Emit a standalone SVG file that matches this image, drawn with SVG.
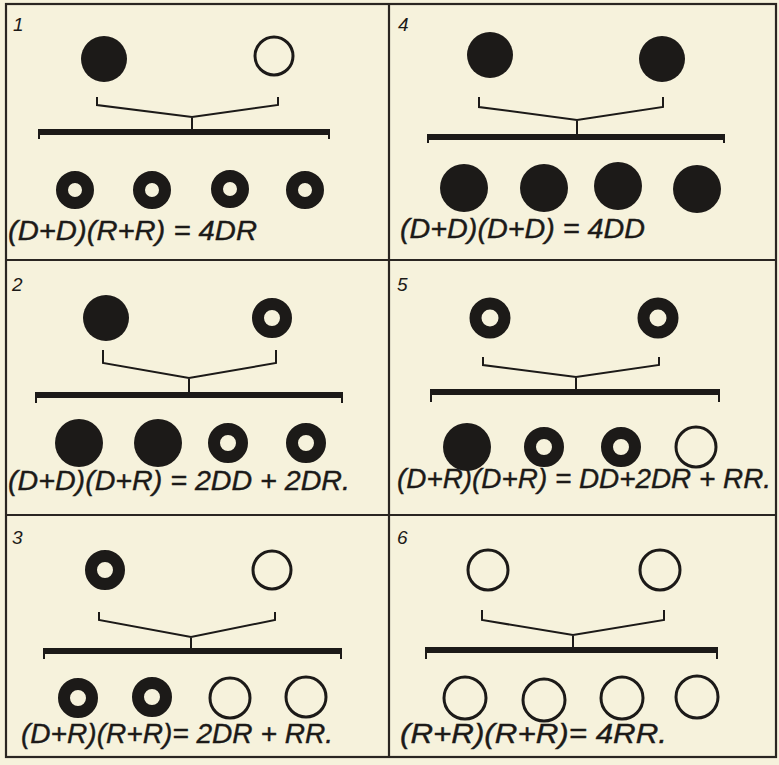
<svg xmlns="http://www.w3.org/2000/svg" width="779" height="765" viewBox="0 0 779 765">
<style>
.bg{fill:#f6f2dc}
.frame{fill:none;stroke:#2a2622;stroke-width:2.2}
.dom{fill:#1c1a18}
.het{fill:none;stroke:#1c1a18;stroke-width:12}
.rec{fill:none;stroke:#1c1a18;stroke-width:3}
.br{fill:none;stroke:#1c1a18;stroke-width:2}
.bar{fill:none;stroke:#1c1a18;stroke-width:6;stroke-linecap:butt}
.tick{fill:none;stroke:#1c1a18;stroke-width:2}
.eq{font-family:"Liberation Sans",Arial,sans-serif;font-style:italic;font-size:28px;fill:#1c1a18;stroke:#1c1a18;stroke-width:0.4}
.num{font-family:"Liberation Sans",Arial,sans-serif;font-style:italic;font-size:19px;fill:#1c1a18}
</style>
<rect class="bg" x="0" y="0" width="779" height="765"/>
<g id="frame">
<rect class="frame" x="6" y="4" width="770" height="753"/>
<line class="frame" x1="389" y1="4" x2="389" y2="757"/>
<line class="frame" x1="6" y1="260" x2="776" y2="260"/>
<line class="frame" x1="6" y1="515" x2="776" y2="515"/>
</g>

<g id="panel1">
<text class="num" x="13" y="31">1</text>
<g id="p1-parent1"><circle class="dom" cx="104" cy="59" r="23"/></g>
<g id="p1-parent2"><circle class="rec" cx="274" cy="56" r="19"/></g>
<g id="p1-connectors">
<path class="br" d="M97 97 V105 L192 117 L278 105 V97 M192 117 V130"/>
<line class="bar" x1="38" y1="132" x2="330" y2="132"/>
<path class="tick" d="M39 132 V139 M329 132 V139"/>
</g>
<g id="p1-child1"><circle class="het" cx="75" cy="190" r="13"/></g>
<g id="p1-child2"><circle class="het" cx="152" cy="190" r="13"/></g>
<g id="p1-child3"><circle class="het" cx="230" cy="189" r="13"/></g>
<g id="p1-child4"><circle class="het" cx="305" cy="190" r="13"/></g>
<text class="eq" x="8" y="240" textLength="249" lengthAdjust="spacingAndGlyphs">(D+D)(R+R) = 4DR</text>
</g>

<g id="panel4">
<text class="num" x="398" y="31">4</text>
<g id="p4-parent1"><circle class="dom" cx="490" cy="55" r="23"/></g>
<g id="p4-parent2"><circle class="dom" cx="662" cy="59" r="23"/></g>
<g id="p4-connectors">
<path class="br" d="M479 97 V107 L577 120 L663 107 V97 M577 120 V134"/>
<line class="bar" x1="427" y1="137" x2="725" y2="137"/>
<path class="tick" d="M428 137 V143 M724 137 V143"/>
</g>
<g id="p4-child1"><circle class="dom" cx="464" cy="188" r="24"/></g>
<g id="p4-child2"><circle class="dom" cx="544" cy="188" r="24"/></g>
<g id="p4-child3"><circle class="dom" cx="618" cy="186" r="24"/></g>
<g id="p4-child4"><circle class="dom" cx="697" cy="189" r="24"/></g>
<text class="eq" x="400" y="238" textLength="245" lengthAdjust="spacingAndGlyphs">(D+D)(D+D) = 4DD</text>
</g>

<g id="panel2">
<text class="num" x="12" y="291">2</text>
<g id="p2-parent1"><circle class="dom" cx="106" cy="318" r="23"/></g>
<g id="p2-parent2"><circle class="het" cx="272" cy="318" r="14"/></g>
<g id="p2-connectors">
<path class="br" d="M103 350 V363 L189 378 L276 363 V350 M189 378 V392"/>
<line class="bar" x1="35" y1="395" x2="343" y2="395"/>
<path class="tick" d="M36 395 V403 M342 395 V403"/>
</g>
<g id="p2-child1"><circle class="dom" cx="79" cy="443" r="24"/></g>
<g id="p2-child2"><circle class="dom" cx="158" cy="443" r="24"/></g>
<g id="p2-child3"><circle class="het" cx="228" cy="443" r="14"/></g>
<g id="p2-child4"><circle class="het" cx="306" cy="443" r="14"/></g>
<text class="eq" x="8" y="490" textLength="342" lengthAdjust="spacingAndGlyphs">(D+D)(D+R) = 2DD + 2DR.</text>
</g>

<g id="panel5">
<text class="num" x="397" y="291">5</text>
<g id="p5-parent1"><circle class="het" cx="490" cy="318" r="14.5"/></g>
<g id="p5-parent2"><circle class="het" cx="658" cy="318" r="14.5"/></g>
<g id="p5-connectors">
<path class="br" d="M483 357 V365 L576 377 L659 365 V357 M576 377 V390"/>
<line class="bar" x1="430" y1="392" x2="720" y2="392"/>
<path class="tick" d="M431 392 V402 M719 392 V402"/>
</g>
<g id="p5-child1"><circle class="dom" cx="467" cy="447" r="24"/></g>
<g id="p5-child2"><circle class="het" cx="544" cy="447" r="14"/></g>
<g id="p5-child3"><circle class="het" cx="621" cy="447" r="14"/></g>
<g id="p5-child4"><circle class="rec" cx="696" cy="447" r="20"/></g>
<text class="eq" x="397" y="488" textLength="374" lengthAdjust="spacingAndGlyphs">(D+R)(D+R) = DD+2DR + RR.</text>
</g>

<g id="panel3">
<text class="num" x="12" y="544">3</text>
<g id="p3-parent1"><circle class="het" cx="105" cy="570" r="14"/></g>
<g id="p3-parent2"><circle class="rec" cx="272" cy="570" r="19"/></g>
<g id="p3-connectors">
<path class="br" d="M99 612 V620 L191 637 L275 620 V612 M191 637 V648"/>
<line class="bar" x1="43" y1="651" x2="342" y2="651"/>
<path class="tick" d="M44 651 V659 M341 651 V659"/>
</g>
<g id="p3-child1"><circle class="het" cx="78" cy="698" r="14"/></g>
<g id="p3-child2"><circle class="het" cx="152" cy="697" r="14"/></g>
<g id="p3-child3"><circle class="rec" cx="230" cy="698" r="20"/></g>
<g id="p3-child4"><circle class="rec" cx="306" cy="697" r="20"/></g>
<text class="eq" x="21" y="743" textLength="312" lengthAdjust="spacingAndGlyphs">(D+R)(R+R)= 2DR + RR.</text>
</g>

<g id="panel6">
<text class="num" x="397" y="544">6</text>
<g id="p6-parent1"><circle class="rec" cx="488" cy="570" r="20"/></g>
<g id="p6-parent2"><circle class="rec" cx="660" cy="570" r="20"/></g>
<g id="p6-connectors">
<path class="br" d="M482 610 V620 L573 635 L664 620 V610 M573 635 V648"/>
<line class="bar" x1="425" y1="650" x2="718" y2="650"/>
<path class="tick" d="M426 650 V659 M717 650 V659"/>
</g>
<g id="p6-child1"><circle class="rec" cx="465" cy="698" r="21"/></g>
<g id="p6-child2"><circle class="rec" cx="544" cy="700" r="21"/></g>
<g id="p6-child3"><circle class="rec" cx="622" cy="698" r="21"/></g>
<g id="p6-child4"><circle class="rec" cx="697" cy="697" r="21"/></g>
<text class="eq" x="400" y="743" textLength="267" lengthAdjust="spacingAndGlyphs">(R+R)(R+R)= 4RR.</text>
</g>
</svg>
